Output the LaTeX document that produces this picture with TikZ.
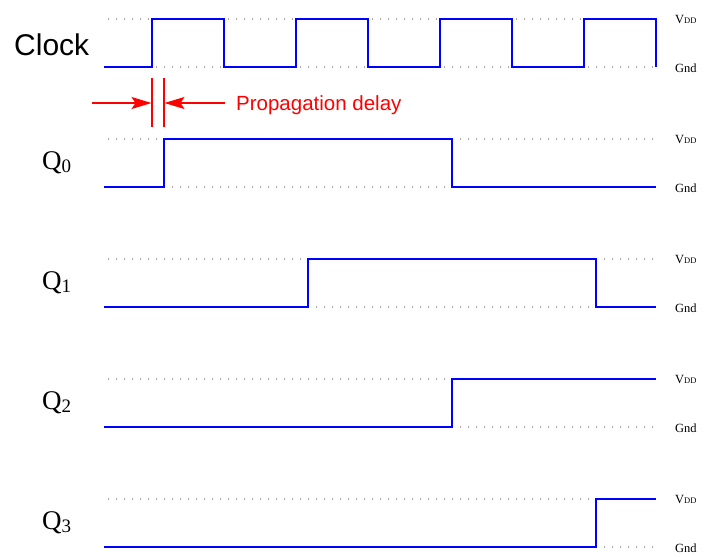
\documentclass[tikz,border=0pt]{standalone}
\usepackage{fontspec}
\setmainfont{Liberation Serif}
\newfontfamily\arialfont{Liberation Sans}
\usetikzlibrary{arrows.meta}
\tikzset{
  sig/.style={draw=blue, line width=2pt, line join=miter},
  lvl/.style={draw=black!35, line width=1.3pt, dash pattern=on 1.3pt off 6.7pt},
  red line/.style={draw=red, line width=1.6pt},
  red arrow/.style={draw=red, line width=1.6pt, -{Stealth[length=20pt,width=12pt,inset=4pt]}},
  qlab/.style={anchor=base west, inner sep=0pt, font=\fontsize{27}{31}\selectfont},
  vlab/.style={anchor=base west, inner sep=0pt, font=\fontsize{12.5}{15}\selectfont},
}
\newcommand{\Vdd}{V{\fontsize{8.5}{10}\selectfont DD}}
\newcommand{\qsub}[1]{\raisebox{-3.5pt}{\fontsize{19}{22}\selectfont #1}}
\begin{document}
\begin{tikzpicture}[x=1pt,y=-1pt]
\useasboundingbox (0,0) rectangle (707,557);
% level guides
\foreach \y in {19,67,139,187,259,307,379,427,499,547}
  \draw[lvl] (108,\y) -- (656,\y);
% clock
\draw[sig] (104,67) -- (152,67) -- (152,19) -- (224,19) -- (224,67) -- (296,67) -- (296,19) -- (368,19) -- (368,67) -- (440,67) -- (440,19) -- (512,19) -- (512,67) -- (584,67) -- (584,19) -- (656,19) -- (656,67);
% Q0..Q3
\draw[sig] (104,187) -- (164,187) -- (164,139) -- (452,139) -- (452,187) -- (656,187);
\draw[sig] (104,307) -- (308,307) -- (308,259) -- (596,259) -- (596,307) -- (656,307);
\draw[sig] (104,427) -- (452,427) -- (452,379) -- (656,379);
\draw[sig] (104,547) -- (596,547) -- (596,499) -- (656,499);
% propagation delay
\coordinate (pl1) at (152,78); \coordinate (pl2) at (152,127);
\coordinate (pr1) at (164,78); \coordinate (pr2) at (164,127);
\draw[red line] (pl1) -- (pl2);
\draw[red line] (pr1) -- (pr2);
\coordinate (al) at (92,103); \coordinate (alt) at (151.5,103);
\coordinate (ar) at (225,103); \coordinate (art) at (164.5,103);
\draw[red arrow] (al) -- (alt);
\draw[red arrow] (ar) -- (art);
\node[anchor=base west, inner sep=0pt, text=red, font=\arialfont\fontsize{20.5}{24}\selectfont] (pd) at (236,110) {Propagation delay};
% labels
\node[anchor=base west, inner sep=0pt, font=\arialfont\fontsize{30}{36}\selectfont] (clk) at (14,55) {Clock};
\node[qlab] (q0) at (42,169) {Q\qsub{0}};
\node[qlab] (q1) at (42,289) {Q\qsub{1}};
\node[qlab] (q2) at (42,409) {Q\qsub{2}};
\node[qlab] (q3) at (42,529) {Q\qsub{3}};
\foreach \hi/\lo/\n in {19/67/c,139/187/a,259/307/b,379/427/d,499/547/e}{
  \node[vlab] (vdd\n) at (675,\hi+4) {\Vdd};
  \node[vlab] (gnd\n) at (675,\lo+5) {Gnd};
}
\end{tikzpicture}
\end{document}
